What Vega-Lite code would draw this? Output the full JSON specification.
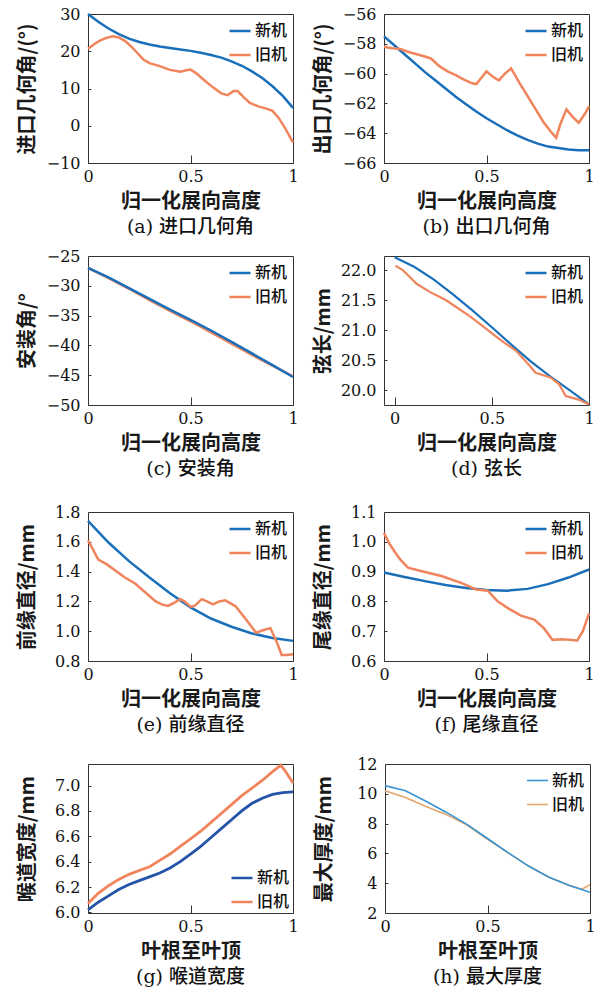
{
  "$schema": "https://vega.github.io/schema/vega-lite/v6.json",
  "background": "white",
  "padding": {"left": 16, "top": 5, "right": 10, "bottom": 6},
  "datasets": {
    "a": [
      {"x":0,"y":30.0,"s":"新机"},{"x":0.05,"y":27.9,"s":"新机"},{"x":0.1,"y":26.1,"s":"新机"},{"x":0.15,"y":24.6,"s":"新机"},{"x":0.2,"y":23.4,"s":"新机"},{"x":0.25,"y":22.5,"s":"新机"},{"x":0.3,"y":21.8,"s":"新机"},{"x":0.35,"y":21.3,"s":"新机"},{"x":0.4,"y":20.9,"s":"新机"},{"x":0.45,"y":20.5,"s":"新机"},{"x":0.5,"y":20.1,"s":"新机"},{"x":0.55,"y":19.6,"s":"新机"},{"x":0.6,"y":19.0,"s":"新机"},{"x":0.65,"y":18.3,"s":"新机"},{"x":0.7,"y":17.3,"s":"新机"},{"x":0.75,"y":16.1,"s":"新机"},{"x":0.8,"y":14.6,"s":"新机"},{"x":0.85,"y":12.8,"s":"新机"},{"x":0.9,"y":10.6,"s":"新机"},{"x":0.95,"y":8.0,"s":"新机"},{"x":1.0,"y":4.8,"s":"新机"},
      {"x":0,"y":20.7,"s":"旧机"},{"x":0.03,"y":21.9,"s":"旧机"},{"x":0.06,"y":22.9,"s":"旧机"},{"x":0.09,"y":23.6,"s":"旧机"},{"x":0.12,"y":24.0,"s":"旧机"},{"x":0.15,"y":23.7,"s":"旧机"},{"x":0.18,"y":22.8,"s":"旧机"},{"x":0.21,"y":21.3,"s":"旧机"},{"x":0.24,"y":19.6,"s":"旧机"},{"x":0.27,"y":17.8,"s":"旧机"},{"x":0.3,"y":16.8,"s":"旧机"},{"x":0.35,"y":16.0,"s":"旧机"},{"x":0.4,"y":15.0,"s":"旧机"},{"x":0.45,"y":14.5,"s":"旧机"},{"x":0.48,"y":14.9,"s":"旧机"},{"x":0.5,"y":15.1,"s":"旧机"},{"x":0.53,"y":14.0,"s":"旧机"},{"x":0.57,"y":12.1,"s":"旧机"},{"x":0.61,"y":10.3,"s":"旧机"},{"x":0.65,"y":8.7,"s":"旧机"},{"x":0.68,"y":8.2,"s":"旧机"},{"x":0.71,"y":9.3,"s":"旧机"},{"x":0.73,"y":9.3,"s":"旧机"},{"x":0.76,"y":7.6,"s":"旧机"},{"x":0.79,"y":6.1,"s":"旧机"},{"x":0.83,"y":5.2,"s":"旧机"},{"x":0.87,"y":4.6,"s":"旧机"},{"x":0.9,"y":4.0,"s":"旧机"},{"x":0.93,"y":2.1,"s":"旧机"},{"x":0.96,"y":-0.5,"s":"旧机"},{"x":1.0,"y":-4.5,"s":"旧机"}
    ],
    "b": [
      {"x":0,"y":-57.5,"s":"新机"},{"x":0.05,"y":-58.1,"s":"新机"},{"x":0.1,"y":-58.7,"s":"新机"},{"x":0.15,"y":-59.3,"s":"新机"},{"x":0.2,"y":-59.9,"s":"新机"},{"x":0.25,"y":-60.45,"s":"新机"},{"x":0.3,"y":-61.0,"s":"新机"},{"x":0.35,"y":-61.55,"s":"新机"},{"x":0.4,"y":-62.05,"s":"新机"},{"x":0.45,"y":-62.55,"s":"新机"},{"x":0.5,"y":-63.0,"s":"新机"},{"x":0.55,"y":-63.4,"s":"新机"},{"x":0.6,"y":-63.8,"s":"新机"},{"x":0.65,"y":-64.15,"s":"新机"},{"x":0.7,"y":-64.45,"s":"新机"},{"x":0.75,"y":-64.7,"s":"新机"},{"x":0.8,"y":-64.9,"s":"新机"},{"x":0.85,"y":-65.0,"s":"新机"},{"x":0.9,"y":-65.1,"s":"新机"},{"x":0.95,"y":-65.15,"s":"新机"},{"x":1.0,"y":-65.15,"s":"新机"},
      {"x":0,"y":-58.2,"s":"旧机"},{"x":0.04,"y":-58.3,"s":"旧机"},{"x":0.08,"y":-58.35,"s":"旧机"},{"x":0.12,"y":-58.55,"s":"旧机"},{"x":0.16,"y":-58.7,"s":"旧机"},{"x":0.2,"y":-58.85,"s":"旧机"},{"x":0.23,"y":-59.0,"s":"旧机"},{"x":0.27,"y":-59.5,"s":"旧机"},{"x":0.31,"y":-59.85,"s":"旧机"},{"x":0.35,"y":-60.1,"s":"旧机"},{"x":0.39,"y":-60.4,"s":"旧机"},{"x":0.43,"y":-60.65,"s":"旧机"},{"x":0.45,"y":-60.7,"s":"旧机"},{"x":0.48,"y":-60.2,"s":"旧机"},{"x":0.5,"y":-59.85,"s":"旧机"},{"x":0.53,"y":-60.2,"s":"旧机"},{"x":0.56,"y":-60.45,"s":"旧机"},{"x":0.59,"y":-60.0,"s":"旧机"},{"x":0.62,"y":-59.65,"s":"旧机"},{"x":0.66,"y":-60.6,"s":"旧机"},{"x":0.7,"y":-61.5,"s":"旧机"},{"x":0.74,"y":-62.4,"s":"旧机"},{"x":0.78,"y":-63.3,"s":"旧机"},{"x":0.82,"y":-64.0,"s":"旧机"},{"x":0.84,"y":-64.3,"s":"旧机"},{"x":0.86,"y":-63.4,"s":"旧机"},{"x":0.89,"y":-62.4,"s":"旧机"},{"x":0.92,"y":-62.9,"s":"旧机"},{"x":0.95,"y":-63.3,"s":"旧机"},{"x":0.98,"y":-62.7,"s":"旧机"},{"x":1.0,"y":-62.2,"s":"旧机"}
    ],
    "c": [
      {"x":0,"y":-27.0,"s":"旧机"},{"x":0.1,"y":-28.7,"s":"旧机"},{"x":0.2,"y":-30.5,"s":"旧机"},{"x":0.3,"y":-32.4,"s":"旧机"},{"x":0.4,"y":-34.2,"s":"旧机"},{"x":0.5,"y":-35.95,"s":"旧机"},{"x":0.6,"y":-37.8,"s":"旧机"},{"x":0.7,"y":-39.7,"s":"旧机"},{"x":0.8,"y":-41.6,"s":"旧机"},{"x":0.9,"y":-43.4,"s":"旧机"},{"x":1.0,"y":-45.2,"s":"旧机"},
      {"x":0,"y":-27.0,"s":"新机"},{"x":0.1,"y":-28.6,"s":"新机"},{"x":0.2,"y":-30.4,"s":"新机"},{"x":0.3,"y":-32.2,"s":"新机"},{"x":0.4,"y":-34.0,"s":"新机"},{"x":0.5,"y":-35.7,"s":"新机"},{"x":0.6,"y":-37.5,"s":"新机"},{"x":0.7,"y":-39.4,"s":"新机"},{"x":0.8,"y":-41.35,"s":"新机"},{"x":0.9,"y":-43.3,"s":"新机"},{"x":1.0,"y":-45.3,"s":"新机"}
    ],
    "d": [
      {"x":0,"y":22.22,"s":"新机"},{"x":0.1,"y":22.06,"s":"新机"},{"x":0.2,"y":21.85,"s":"新机"},{"x":0.3,"y":21.6,"s":"新机"},{"x":0.4,"y":21.33,"s":"新机"},{"x":0.5,"y":21.05,"s":"新机"},{"x":0.6,"y":20.76,"s":"新机"},{"x":0.7,"y":20.48,"s":"新机"},{"x":0.8,"y":20.23,"s":"新机"},{"x":0.9,"y":20.0,"s":"新机"},{"x":1.0,"y":19.76,"s":"新机"},
      {"x":0.004,"y":22.08,"s":"旧机"},{"x":0.043,"y":22.0,"s":"旧机"},{"x":0.08,"y":21.88,"s":"旧机"},{"x":0.111,"y":21.78,"s":"旧机"},{"x":0.18,"y":21.64,"s":"旧机"},{"x":0.265,"y":21.5,"s":"旧机"},{"x":0.32,"y":21.38,"s":"旧机"},{"x":0.384,"y":21.24,"s":"旧机"},{"x":0.44,"y":21.1,"s":"旧机"},{"x":0.504,"y":20.94,"s":"旧机"},{"x":0.56,"y":20.8,"s":"旧机"},{"x":0.623,"y":20.66,"s":"旧机"},{"x":0.68,"y":20.46,"s":"旧机"},{"x":0.725,"y":20.29,"s":"旧机"},{"x":0.802,"y":20.21,"s":"旧机"},{"x":0.845,"y":20.1,"s":"旧机"},{"x":0.88,"y":19.9,"s":"旧机"},{"x":0.947,"y":19.84,"s":"旧机"},{"x":1.0,"y":19.76,"s":"旧机"}
    ],
    "e": [
      {"x":0,"y":1.74,"s":"新机"},{"x":0.1,"y":1.595,"s":"新机"},{"x":0.2,"y":1.47,"s":"新机"},{"x":0.3,"y":1.36,"s":"新机"},{"x":0.4,"y":1.255,"s":"新机"},{"x":0.5,"y":1.16,"s":"新机"},{"x":0.6,"y":1.085,"s":"新机"},{"x":0.7,"y":1.03,"s":"新机"},{"x":0.8,"y":0.985,"s":"新机"},{"x":0.9,"y":0.955,"s":"新机"},{"x":1.0,"y":0.935,"s":"新机"},
      {"x":0,"y":1.61,"s":"旧机"},{"x":0.02,"y":1.56,"s":"旧机"},{"x":0.05,"y":1.48,"s":"旧机"},{"x":0.09,"y":1.45,"s":"旧机"},{"x":0.13,"y":1.41,"s":"旧机"},{"x":0.18,"y":1.36,"s":"旧机"},{"x":0.23,"y":1.32,"s":"旧机"},{"x":0.28,"y":1.26,"s":"旧机"},{"x":0.33,"y":1.2,"s":"旧机"},{"x":0.36,"y":1.18,"s":"旧机"},{"x":0.39,"y":1.17,"s":"旧机"},{"x":0.42,"y":1.19,"s":"旧机"},{"x":0.45,"y":1.215,"s":"旧机"},{"x":0.47,"y":1.2,"s":"旧机"},{"x":0.5,"y":1.165,"s":"旧机"},{"x":0.52,"y":1.17,"s":"旧机"},{"x":0.555,"y":1.215,"s":"旧机"},{"x":0.58,"y":1.2,"s":"旧机"},{"x":0.61,"y":1.18,"s":"旧机"},{"x":0.64,"y":1.2,"s":"旧机"},{"x":0.67,"y":1.207,"s":"旧机"},{"x":0.72,"y":1.167,"s":"旧机"},{"x":0.77,"y":1.08,"s":"旧机"},{"x":0.82,"y":0.99,"s":"旧机"},{"x":0.86,"y":1.01,"s":"旧机"},{"x":0.89,"y":1.02,"s":"旧机"},{"x":0.92,"y":0.93,"s":"旧机"},{"x":0.945,"y":0.84,"s":"旧机"},{"x":0.97,"y":0.84,"s":"旧机"},{"x":1.0,"y":0.845,"s":"旧机"}
    ],
    "f": [
      {"x":0,"y":0.897,"s":"新机"},{"x":0.1,"y":0.882,"s":"新机"},{"x":0.2,"y":0.868,"s":"新机"},{"x":0.3,"y":0.855,"s":"新机"},{"x":0.4,"y":0.845,"s":"新机"},{"x":0.5,"y":0.838,"s":"新机"},{"x":0.6,"y":0.836,"s":"新机"},{"x":0.7,"y":0.842,"s":"新机"},{"x":0.8,"y":0.858,"s":"新机"},{"x":0.9,"y":0.88,"s":"新机"},{"x":1.0,"y":0.907,"s":"新机"},
      {"x":0,"y":1.03,"s":"旧机"},{"x":0.025,"y":0.995,"s":"旧机"},{"x":0.05,"y":0.969,"s":"旧机"},{"x":0.08,"y":0.94,"s":"旧机"},{"x":0.117,"y":0.913,"s":"旧机"},{"x":0.18,"y":0.902,"s":"旧机"},{"x":0.28,"y":0.885,"s":"旧机"},{"x":0.376,"y":0.862,"s":"旧机"},{"x":0.449,"y":0.84,"s":"旧机"},{"x":0.506,"y":0.836,"s":"旧机"},{"x":0.554,"y":0.8,"s":"旧机"},{"x":0.61,"y":0.775,"s":"旧机"},{"x":0.668,"y":0.752,"s":"旧机"},{"x":0.733,"y":0.739,"s":"旧机"},{"x":0.78,"y":0.71,"s":"旧机"},{"x":0.822,"y":0.671,"s":"旧机"},{"x":0.87,"y":0.673,"s":"旧机"},{"x":0.943,"y":0.669,"s":"旧机"},{"x":0.97,"y":0.7,"s":"旧机"},{"x":1.0,"y":0.759,"s":"旧机"}
    ],
    "g": [
      {"x":0,"y":6.02,"s":"新机"},{"x":0.05,"y":6.08,"s":"新机"},{"x":0.1,"y":6.13,"s":"新机"},{"x":0.15,"y":6.18,"s":"新机"},{"x":0.2,"y":6.22,"s":"新机"},{"x":0.25,"y":6.25,"s":"新机"},{"x":0.3,"y":6.28,"s":"新机"},{"x":0.35,"y":6.31,"s":"新机"},{"x":0.4,"y":6.35,"s":"新机"},{"x":0.45,"y":6.4,"s":"新机"},{"x":0.5,"y":6.46,"s":"新机"},{"x":0.55,"y":6.52,"s":"新机"},{"x":0.6,"y":6.59,"s":"新机"},{"x":0.65,"y":6.66,"s":"新机"},{"x":0.7,"y":6.73,"s":"新机"},{"x":0.75,"y":6.8,"s":"新机"},{"x":0.8,"y":6.86,"s":"新机"},{"x":0.85,"y":6.9,"s":"新机"},{"x":0.9,"y":6.93,"s":"新机"},{"x":0.95,"y":6.945,"s":"新机"},{"x":1.0,"y":6.95,"s":"新机"},
      {"x":0,"y":6.07,"s":"旧机"},{"x":0.05,"y":6.15,"s":"旧机"},{"x":0.1,"y":6.21,"s":"旧机"},{"x":0.15,"y":6.26,"s":"旧机"},{"x":0.2,"y":6.3,"s":"旧机"},{"x":0.25,"y":6.33,"s":"旧机"},{"x":0.3,"y":6.36,"s":"旧机"},{"x":0.35,"y":6.41,"s":"旧机"},{"x":0.4,"y":6.46,"s":"旧机"},{"x":0.45,"y":6.52,"s":"旧机"},{"x":0.5,"y":6.58,"s":"旧机"},{"x":0.55,"y":6.64,"s":"旧机"},{"x":0.6,"y":6.71,"s":"旧机"},{"x":0.65,"y":6.78,"s":"旧机"},{"x":0.7,"y":6.85,"s":"旧机"},{"x":0.75,"y":6.92,"s":"旧机"},{"x":0.8,"y":6.98,"s":"旧机"},{"x":0.85,"y":7.04,"s":"旧机"},{"x":0.9,"y":7.11,"s":"旧机"},{"x":0.94,"y":7.16,"s":"旧机"},{"x":0.96,"y":7.12,"s":"旧机"},{"x":1.0,"y":7.02,"s":"旧机"}
    ],
    "h": [
      {"x":0,"y":10.2,"s":"旧机"},{"x":0.1,"y":9.75,"s":"旧机"},{"x":0.2,"y":9.15,"s":"旧机"},{"x":0.3,"y":8.6,"s":"旧机"},{"x":0.35,"y":8.25,"s":"旧机"},{"x":0.4,"y":7.9,"s":"旧机"},{"x":0.5,"y":6.95,"s":"旧机"},{"x":0.6,"y":6.05,"s":"旧机"},{"x":0.7,"y":5.15,"s":"旧机"},{"x":0.8,"y":4.4,"s":"旧机"},{"x":0.9,"y":3.85,"s":"旧机"},{"x":0.96,"y":3.6,"s":"旧机"},{"x":1.0,"y":3.9,"s":"旧机"},
      {"x":0,"y":10.55,"s":"新机"},{"x":0.1,"y":10.2,"s":"新机"},{"x":0.2,"y":9.5,"s":"新机"},{"x":0.3,"y":8.75,"s":"新机"},{"x":0.4,"y":7.95,"s":"新机"},{"x":0.5,"y":7.0,"s":"新机"},{"x":0.6,"y":6.05,"s":"新机"},{"x":0.7,"y":5.15,"s":"新机"},{"x":0.8,"y":4.4,"s":"新机"},{"x":0.9,"y":3.85,"s":"新机"},{"x":1.0,"y":3.4,"s":"新机"}
    ]
  },
  "config": {
    "view": {"stroke": "#333", "strokeWidth": 1},
    "axis": {"domain": false, "grid": false, "labelFont": "DejaVu Serif", "labelFontSize": 16, "labelColor": "#111", "tickColor": "#333", "labelFlush": false, "labelOverlap": false, "titleFont": "Noto Sans CJK SC", "titleFontSize": 20, "titleFontWeight": "bold", "titleColor": "#1a1a1a"},
    "axisX": {"tickSize": -8, "labelPadding": 13, "titlePadding": 7},
    "axisY": {"tickSize": -3, "labelPadding": 11, "titlePadding": 7, "minExtent": 44, "maxExtent": 44},
    "title": {"font": "DejaVu Serif, Noto Sans CJK SC", "fontSize": 19, "fontWeight": 500, "color": "#111", "orient": "bottom", "offset": 7},
    "legend": {"orient": "top-right", "labelFont": "Noto Sans CJK SC", "labelFontSize": 16, "labelFontWeight": 500, "labelColor": "#111", "symbolType": "stroke", "symbolStrokeWidth": 2.5, "symbolSize": 441, "padding": 0, "offset": 5, "rowPadding": 4, "labelOffset": 3}
  },
  "resolve": {"scale": {"color": "independent"}, "legend": {"color": "independent"}},
  "spacing": 23,
  "vconcat": [
    {
      "spacing": 9,
      "resolve": {"scale": {"color": "independent"}, "legend": {"color": "independent"}},
      "vconcat": [
        {
          "spacing": 13,
          "resolve": {"scale": {"color": "independent"}, "legend": {"color": "independent"}},
          "hconcat": [
            {
              "width": 205, "height": 149,
              "data": {"name": "a"},
              "mark": {"type": "line", "strokeWidth": 2.5},
              "title": "(a) 进口几何角",
              "encoding": {
                "x": {"field": "x", "type": "quantitative", "scale": {"domain": [0, 1], "nice": false}, "axis": {"values": [0, 0.5, 1], "format": "~g", "title": "归一化展向高度"}},
                "y": {"field": "y", "type": "quantitative", "scale": {"domain": [-10, 30], "nice": false}, "axis": {"values": [-10, 0, 10, 20, 30], "title": "进口几何角/(°)"}},
                "color": {"field": "s", "type": "nominal", "scale": {"domain": ["新机", "旧机"], "range": ["#1a6fba", "#f0845c"]}, "legend": {"title": null}}
              }
            },
            {
              "width": 205, "height": 149,
              "data": {"name": "b"},
              "mark": {"type": "line", "strokeWidth": 2.5},
              "title": "(b) 出口几何角",
              "encoding": {
                "x": {"field": "x", "type": "quantitative", "scale": {"domain": [0, 1], "nice": false}, "axis": {"values": [0, 0.5, 1], "format": "~g", "title": "归一化展向高度"}},
                "y": {"field": "y", "type": "quantitative", "scale": {"domain": [-66, -56], "nice": false}, "axis": {"values": [-66, -64, -62, -60, -58, -56], "title": "出口几何角/(°)"}},
                "color": {"field": "s", "type": "nominal", "scale": {"domain": ["新机", "旧机"], "range": ["#1a6fba", "#f0845c"]}, "legend": {"title": null}}
              }
            }
          ]
        },
        {
          "spacing": 13,
          "resolve": {"scale": {"color": "independent"}, "legend": {"color": "independent"}},
          "hconcat": [
            {
              "width": 205, "height": 149,
              "data": {"name": "c"},
              "mark": {"type": "line", "strokeWidth": 2.5},
              "title": "(c) 安装角",
              "encoding": {
                "x": {"field": "x", "type": "quantitative", "scale": {"domain": [0, 1], "nice": false}, "axis": {"values": [0, 0.5, 1], "format": "~g", "title": "归一化展向高度"}},
                "y": {"field": "y", "type": "quantitative", "scale": {"domain": [-50, -25], "nice": false}, "axis": {"values": [-50, -45, -40, -35, -30, -25], "title": "安装角/°"}},
                "color": {"field": "s", "type": "nominal", "scale": {"domain": ["新机", "旧机"], "range": ["#1a6fba", "#f0845c"]}, "legend": {"title": null}}
              }
            },
            {
              "width": 205, "height": 149,
              "data": {"name": "d"},
              "mark": {"type": "line", "strokeWidth": 2.2},
              "title": "(d) 弦长",
              "encoding": {
                "x": {"field": "x", "type": "quantitative", "scale": {"domain": [-0.055, 1], "nice": false}, "axis": {"values": [0, 0.5, 1], "format": "~g", "title": "归一化展向高度"}},
                "y": {"field": "y", "type": "quantitative", "scale": {"domain": [19.75, 22.24], "nice": false}, "axis": {"values": [20.0, 20.5, 21.0, 21.5, 22.0], "format": ".1f", "title": "弦长/mm"}},
                "color": {"field": "s", "type": "nominal", "scale": {"domain": ["新机", "旧机"], "range": ["#1a6fba", "#f0845c"]}, "legend": {"title": null}}
              }
            }
          ]
        }
      ]
    },
    {
      "spacing": 19,
      "resolve": {"scale": {"color": "independent"}, "legend": {"color": "independent"}},
      "vconcat": [
        {
          "spacing": 13,
          "resolve": {"scale": {"color": "independent"}, "legend": {"color": "independent"}},
          "hconcat": [
            {
              "width": 205, "height": 149,
              "data": {"name": "e"},
              "mark": {"type": "line", "strokeWidth": 2.5},
              "title": "(e) 前缘直径",
              "encoding": {
                "x": {"field": "x", "type": "quantitative", "scale": {"domain": [0, 1], "nice": false}, "axis": {"values": [0, 0.5, 1], "format": "~g", "title": "归一化展向高度"}},
                "y": {"field": "y", "type": "quantitative", "scale": {"domain": [0.8, 1.8], "nice": false}, "axis": {"values": [0.8, 1.0, 1.2, 1.4, 1.6, 1.8], "format": ".1f", "title": "前缘直径/mm"}},
                "color": {"field": "s", "type": "nominal", "scale": {"domain": ["新机", "旧机"], "range": ["#1a6fba", "#f0845c"]}, "legend": {"title": null}}
              }
            },
            {
              "width": 205, "height": 149,
              "data": {"name": "f"},
              "mark": {"type": "line", "strokeWidth": 2.5},
              "title": "(f) 尾缘直径",
              "encoding": {
                "x": {"field": "x", "type": "quantitative", "scale": {"domain": [0, 1], "nice": false}, "axis": {"values": [0, 0.5, 1], "format": "~g", "title": "归一化展向高度"}},
                "y": {"field": "y", "type": "quantitative", "scale": {"domain": [0.6, 1.1], "nice": false}, "axis": {"values": [0.6, 0.7, 0.8, 0.9, 1.0, 1.1], "format": ".1f", "title": "尾缘直径/mm"}},
                "color": {"field": "s", "type": "nominal", "scale": {"domain": ["新机", "旧机"], "range": ["#1a6fba", "#f0845c"]}, "legend": {"title": null}}
              }
            }
          ]
        },
        {
          "spacing": 13,
          "resolve": {"scale": {"color": "independent"}, "legend": {"color": "independent"}},
          "hconcat": [
            {
              "width": 205, "height": 149,
              "data": {"name": "g"},
              "mark": {"type": "line", "strokeWidth": 2.8},
              "title": "(g) 喉道宽度",
              "encoding": {
                "x": {"field": "x", "type": "quantitative", "scale": {"domain": [0, 1], "nice": false}, "axis": {"values": [0, 0.5, 1], "format": "~g", "title": "叶根至叶顶"}},
                "y": {"field": "y", "type": "quantitative", "scale": {"domain": [5.995, 7.17], "nice": false}, "axis": {"values": [6.0, 6.2, 6.4, 6.6, 6.8, 7.0], "format": ".1f", "title": "喉道宽度/mm"}},
                "color": {"field": "s", "type": "nominal", "scale": {"domain": ["新机", "旧机"], "range": ["#2454a8", "#f0845c"]}, "legend": {"title": null, "orient": "bottom-right", "offset": 3}}
              }
            },
            {
              "width": 205, "height": 149,
              "data": {"name": "h"},
              "mark": {"type": "line", "strokeWidth": 1.6},
              "title": "(h) 最大厚度",
              "encoding": {
                "x": {"field": "x", "type": "quantitative", "scale": {"domain": [0, 1], "nice": false}, "axis": {"values": [0, 0.5, 1], "format": "~g", "title": "叶根至叶顶"}},
                "y": {"field": "y", "type": "quantitative", "scale": {"domain": [2, 12], "nice": false}, "axis": {"values": [2, 4, 6, 8, 10, 12], "title": "最大厚度/mm"}},
                "color": {"field": "s", "type": "nominal", "scale": {"domain": ["新机", "旧机"], "range": ["#3a93d2", "#e2a56c"]}, "legend": {"title": null, "symbolStrokeWidth": 1.6}}
              }
            }
          ]
        }
      ]
    }
  ]
}
